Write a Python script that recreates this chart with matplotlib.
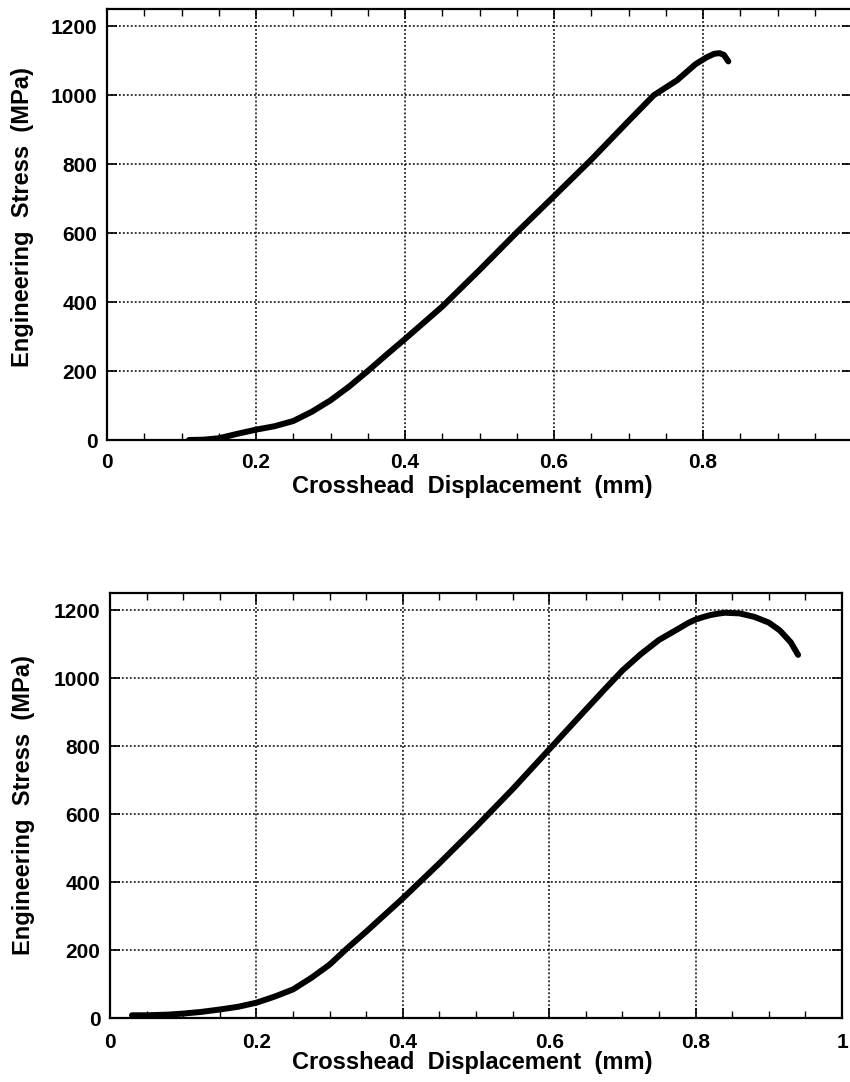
import matplotlib
matplotlib.use("Agg")
import matplotlib.pyplot as plt
from matplotlib.ticker import MultipleLocator, FixedLocator

plt.rcParams['font.family'] = ['Liberation Sans', 'DejaVu Sans']
plt.rcParams['font.weight'] = 'bold'

# Specimen 1: crosshead displacement (mm) vs engineering stress (MPa)
disp_1 = [0.11, 0.13, 0.15, 0.175, 0.2, 0.225, 0.25, 0.275, 0.3, 0.325, 0.35,
          0.375, 0.4, 0.45, 0.5, 0.55, 0.6, 0.65, 0.7, 0.734, 0.765, 0.79,
          0.805, 0.815, 0.822, 0.828, 0.834]
stress_1 = [0, 1, 5, 18, 30, 40, 55, 82, 115, 155, 200, 247, 293, 387, 493,
            602, 707, 813, 925, 1000, 1043, 1090, 1110, 1120, 1122, 1117, 1098]

# Specimen 2
disp_2 = [0.03, 0.05, 0.08, 0.1, 0.125, 0.15, 0.175, 0.2, 0.225, 0.25, 0.275,
          0.3, 0.325, 0.35, 0.375, 0.4, 0.45, 0.5, 0.55, 0.6, 0.65, 0.675, 0.7,
          0.725, 0.75, 0.775, 0.79, 0.8, 0.81, 0.82, 0.83, 0.84, 0.86, 0.88,
          0.9, 0.915, 0.93, 0.94]
stress_2 = [8, 8, 10, 13, 18, 25, 33, 45, 63, 84, 118, 157, 207, 254, 303,
            352, 455, 562, 673, 790, 907, 965, 1022, 1070, 1112, 1143, 1162,
            1172, 1179, 1185, 1189, 1192, 1190, 1180, 1163, 1140, 1105, 1068]

x_ticks = [0, 0.2, 0.4, 0.6, 0.8, 1]
x_tick_labels_1 = ['0', '0.2', '0.4', '0.6', '0.8', '']
x_tick_labels_2 = ['0', '0.2', '0.4', '0.6', '0.8', '1']
y_ticks = [0, 200, 400, 600, 800, 1000, 1200]
x_label = 'Crosshead  Displacement  (mm)'
y_label = 'Engineering  Stress  (MPa)'

W, H = 850, 1082
fig = plt.figure(figsize=(W / 100, H / 100), dpi=100)


def px_axes(left, top, right, bottom):
    return fig.add_axes([left / W, 1 - bottom / H, (right - left) / W, (bottom - top) / H])


def style(ax, disp, stress, xlabels):
    ax.plot(disp, stress, color='black', lw=4.3, solid_capstyle='round',
            solid_joinstyle='round', zorder=3)
    ax.set_xlim(0, 1)
    ax.set_ylim(0, 1250)
    ax.xaxis.set_major_locator(FixedLocator(x_ticks))
    ax.set_xticklabels(xlabels)
    ax.xaxis.set_minor_locator(MultipleLocator(0.05))
    ax.yaxis.set_major_locator(FixedLocator(y_ticks))
    ax.grid(True, which='major', color='black', linestyle=(0, (1.2, 1.4)),
            linewidth=1.1, zorder=1)
    ax.tick_params(which='both', direction='in', top=True, right=True,
                   colors='black', labelsize=15)
    ax.tick_params(axis='x', pad=9)
    ax.tick_params(axis='y', pad=7)
    ax.tick_params(which='major', length=7, width=1.2)
    ax.tick_params(which='minor', length=5, width=1.0)
    for lbl in ax.get_xticklabels() + ax.get_yticklabels():
        lbl.set_fontweight('bold')
    for sp in ax.spines.values():
        sp.set_linewidth(1.6)
    ax.set_xlabel(x_label, fontsize=17, fontweight='bold')
    ax.set_ylabel(y_label, fontsize=17, fontweight='bold')


ax1 = px_axes(107, 9, 852, 440)
style(ax1, disp_1, stress_1, x_tick_labels_1)
ax1.xaxis.set_label_coords((472 - 107) / (852 - 107), -47 / 431)
ax1.yaxis.set_label_coords(-(107 - 23) / (852 - 107), (440 - 217) / 431)
ax1.xaxis.label.set_va('center')
ax1.yaxis.label.set_va('center')

ax2 = px_axes(110, 593, 842, 1018)
style(ax2, disp_2, stress_2, x_tick_labels_2)
ax2.tick_params(axis='x', pad=11)
ax2.xaxis.set_label_coords((472 - 110) / (842 - 110), -44 / 425)
ax2.yaxis.set_label_coords(-(110 - 23) / (842 - 110), 0.5)
ax2.xaxis.label.set_va('center')
ax2.yaxis.label.set_va('center')

fig.savefig('out.png', dpi=100)
